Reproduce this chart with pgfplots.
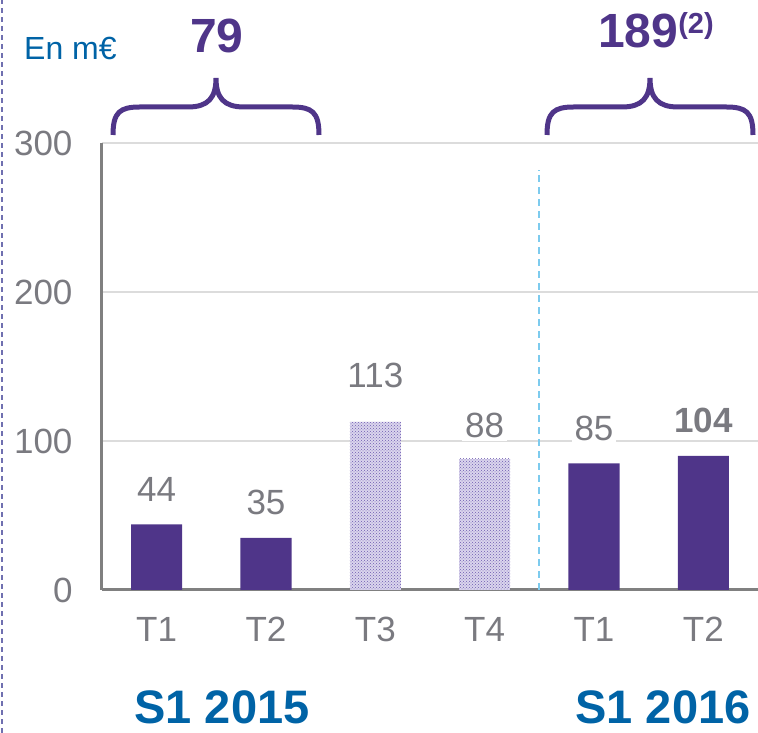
\documentclass[border=0pt]{standalone}
\usepackage{pgfplots}
\pgfplotsset{compat=1.18}
\usepackage{fontspec}
\setmainfont{Liberation Sans}
\usetikzlibrary{patterns}
\definecolor{barpurple}{RGB}{79,53,137}
\definecolor{txtblue}{RGB}{0,99,166}
\definecolor{txtgray}{RGB}{122,122,128}
\definecolor{axgray}{RGB}{128,128,128}
\definecolor{gridgray}{RGB}{220,220,220}
\definecolor{dashblue}{RGB}{125,203,238}
\definecolor{borderpurple}{RGB}{112,112,176}
\definecolor{patpurple}{RGB}{110,90,175}
\definecolor{patfill}{RGB}{218,213,237}
\begin{document}
\begin{tikzpicture}
\useasboundingbox (0,0) rectangle (758pt,733pt);
\begin{axis}[
  at={(102pt,143pt)}, anchor=south west,
  scale only axis, width=656pt, height=447pt,
  xmin=-0.5, xmax=5.5, ymin=0, ymax=300,
  axis lines*=left,
  axis line style={axgray, line width=3pt},
  major tick length=0pt,
  ytick={0,100,200,300},
  xtick={0,1,2,3,4,5},
  xticklabels={T1,T2,T3,T4,T1,T2},
  ymajorgrids,
  grid style={gridgray, line width=1.5pt},
  tick label style={font=\fontsize{35}{40}\selectfont, text=txtgray},
  /pgf/number format/assume math mode=true,
  yticklabel style={xshift=-26pt},
  xticklabel style={yshift=-24pt},
  clip=false,
]
\addplot[ybar, bar width=51pt, bar shift=0pt, fill=barpurple, draw=none,
  point meta=explicit symbolic, nodes near coords,
  nodes near coords style={anchor=center, yshift=35pt, font=\fontsize{35}{40}\selectfont, text=txtgray, fill=white, inner sep=3pt}]
  coordinates {(0,44) [44] (1,35) [35] (4,85) [85] (5,90) [\textbf{104}]};
\addplot[ybar, bar width=51pt, bar shift=0pt, fill=patfill, draw=none,
  postaction={pattern=crosshatch dots, pattern color=patpurple},
  point meta=explicit symbolic, nodes near coords,
  nodes near coords style={anchor=center, yshift=46pt, font=\fontsize{35}{40}\selectfont, text=txtgray, fill=white, inner sep=3pt}]
  coordinates {(2,113) [113]};
\addplot[ybar, bar width=51pt, bar shift=0pt, fill=patfill, draw=none,
  postaction={pattern=crosshatch dots, pattern color=patpurple},
  point meta=explicit symbolic, nodes near coords,
  nodes near coords style={anchor=center, yshift=33pt, font=\fontsize{35}{40}\selectfont, text=txtgray, fill=white, inner sep=3pt}]
  coordinates {(3,88) [88]};
\draw[dashblue, line width=2pt, dash pattern=on 7pt off 5pt] (axis cs:3.5,0) -- (axis cs:3.5,282);
\end{axis}
\draw[borderpurple, line width=2pt, dash pattern=on 5pt off 4pt] (2pt,0pt) -- (2pt,733pt);
\foreach \s in {0,434} {
\begin{scope}[xshift=\s pt]
\draw[barpurple, line width=5pt] (113pt,598pt) .. controls (113pt,621pt) and (120pt,626pt) .. (140pt,626pt) -- (188pt,626pt) .. controls (208pt,626pt) and (216pt,635pt) .. (216pt,655pt) .. controls (216pt,635pt) and (224pt,626pt) .. (244pt,626pt) -- (292pt,626pt) .. controls (312pt,626pt) and (319pt,621pt) .. (319pt,598pt);
\end{scope}}
\node[font=\fontsize{32}{38}\selectfont, text=txtblue, anchor=base west, inner sep=0pt] at (24pt,673pt) {En m€};
\node[font=\bfseries\fontsize{48}{56}\selectfont, text=barpurple, anchor=base, inner sep=0pt] at (217pt,680pt) {79};
\node[font=\bfseries\fontsize{48}{56}\selectfont, text=barpurple, anchor=base west, inner sep=0pt] at (598pt,685pt) {189\raisebox{14pt}{\fontsize{29}{34}\selectfont(2)}};
\node[font=\bfseries\fontsize{47}{56}\selectfont, text=txtblue, anchor=base, inner sep=0pt] at (222pt,9pt) {S1 2015};
\node[font=\bfseries\fontsize{47}{56}\selectfont, text=txtblue, anchor=base, inner sep=0pt] at (663pt,9pt) {S1 2016};
\end{tikzpicture}
\end{document}
